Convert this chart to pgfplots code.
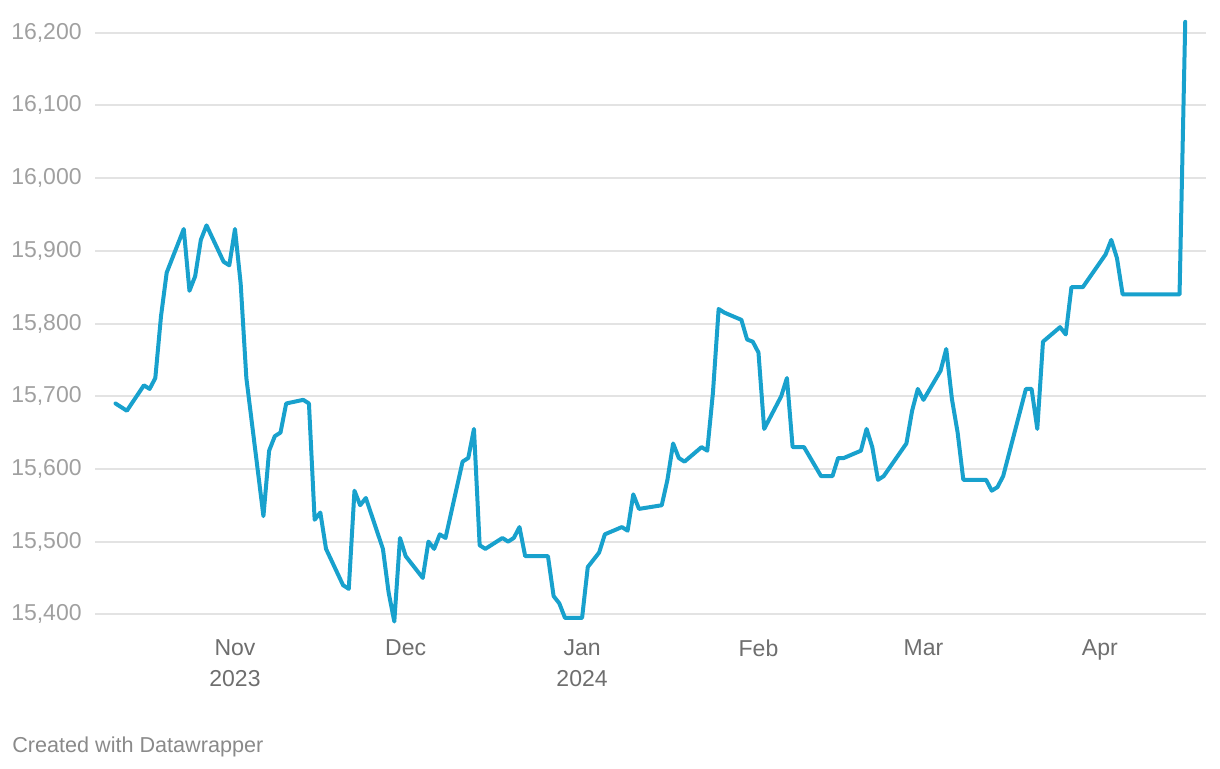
\documentclass[border=0pt]{standalone}
\usepackage{fontspec}
\setmainfont{Liberation Sans}
\usepackage{pgfplots}
\pgfplotsset{compat=1.18}
\definecolor{linec}{HTML}{18A1CD}
\definecolor{gridc}{HTML}{E3E3E3}
\definecolor{ylab}{HTML}{A0A0A0}
\definecolor{xlab}{HTML}{6E6E6E}
\definecolor{foot}{HTML}{8A8A8A}
\begin{document}
\begin{tikzpicture}
\path[use as bounding box] (0,0) rectangle (610pt,384pt);
\begin{axis}[
  at={(47.5pt,65.95pt)}, anchor=south west,
  scale only axis, width=555.5pt, height=312.6pt,
  xmin=-24.6, xmax=170.65, ymin=15370, ymax=16230,
  axis line style={draw=none},
  major tick length=0pt,
  ytick={15400,15500,...,16200},
  scaled y ticks=false,
  ymajorgrids,
  grid style={color=gridc, line width=1pt},
  xtick={0,30,61,92,121,152},
  xticklabels={Nov\\2023, Dec, Jan\\2024, Feb, Mar, Apr},
  xticklabel style={align=center, anchor=north, inner sep=0pt, yshift=-1.5pt,
    font=\fontsize{11.5}{15.5}\selectfont, text=xlab},
  yticklabel style={anchor=east, inner sep=0pt, xshift=-6.5pt,
    font=\fontsize{11.5}{13}\selectfont, text=ylab},
  clip=false,
  /pgf/number format/1000 sep={,},
  /pgf/number format/assume math mode=true,
]
\addplot[color=linec, line width=2pt, line join=round, line cap=round, mark=none] coordinates {
(-21,15690) (-19,15680) (-16,15715) (-15,15710) (-14,15725) (-13,15810) (-12,15870)
(-9,15930) (-8,15845) (-7,15865) (-6,15915) (-5,15935) (-2,15885) (-1,15880)
(0,15930) (1,15855) (2,15725) (5,15535) (6,15625) (7,15645) (8,15650) (9,15690)
(12,15695) (13,15690) (14,15530) (15,15540) (16,15490) (19,15440) (20,15435)
(21,15570) (22,15550) (23,15560) (26,15490) (27,15430) (28,15390) (29,15505)
(30,15480) (33,15450) (34,15500) (35,15490) (36,15510) (37,15505) (40,15610)
(41,15615) (42,15655) (43,15495) (44,15490) (47,15505) (48,15500) (49,15505)
(50,15520) (51,15480) (55,15480) (56,15425) (57,15415) (58,15395) (61,15395)
(62,15465) (64,15485) (65,15510) (68,15520) (69,15515) (70,15565) (71,15545)
(75,15550) (76,15585) (77,15635) (78,15615) (79,15610) (82,15630) (83,15625)
(84,15705) (85,15820) (86,15815) (89,15805) (90,15778) (91,15775) (92,15760)
(93,15655) (96,15700) (97,15725) (98,15630) (100,15630) (103,15590) (105,15590)
(106,15615) (107,15615) (110,15625) (111,15655) (112,15630) (113,15585) (114,15590)
(118,15635) (119,15680) (120,15710) (121,15695) (124,15735) (125,15765) (126,15696)
(127,15650) (128,15585) (132,15585) (133,15570) (134,15575) (135,15590) (138,15680)
(139,15710) (140,15710) (141,15655) (142,15775) (145,15795) (146,15785) (147,15850)
(149,15850) (153,15895) (154,15915) (155,15890) (156,15840) (166,15840) (167,16215)
};
\end{axis}
\node[anchor=base west, inner sep=0pt, font=\fontsize{10.8}{13}\selectfont, text=foot] at (6pt,8pt) {Created with Datawrapper};
\end{tikzpicture}
\end{document}
